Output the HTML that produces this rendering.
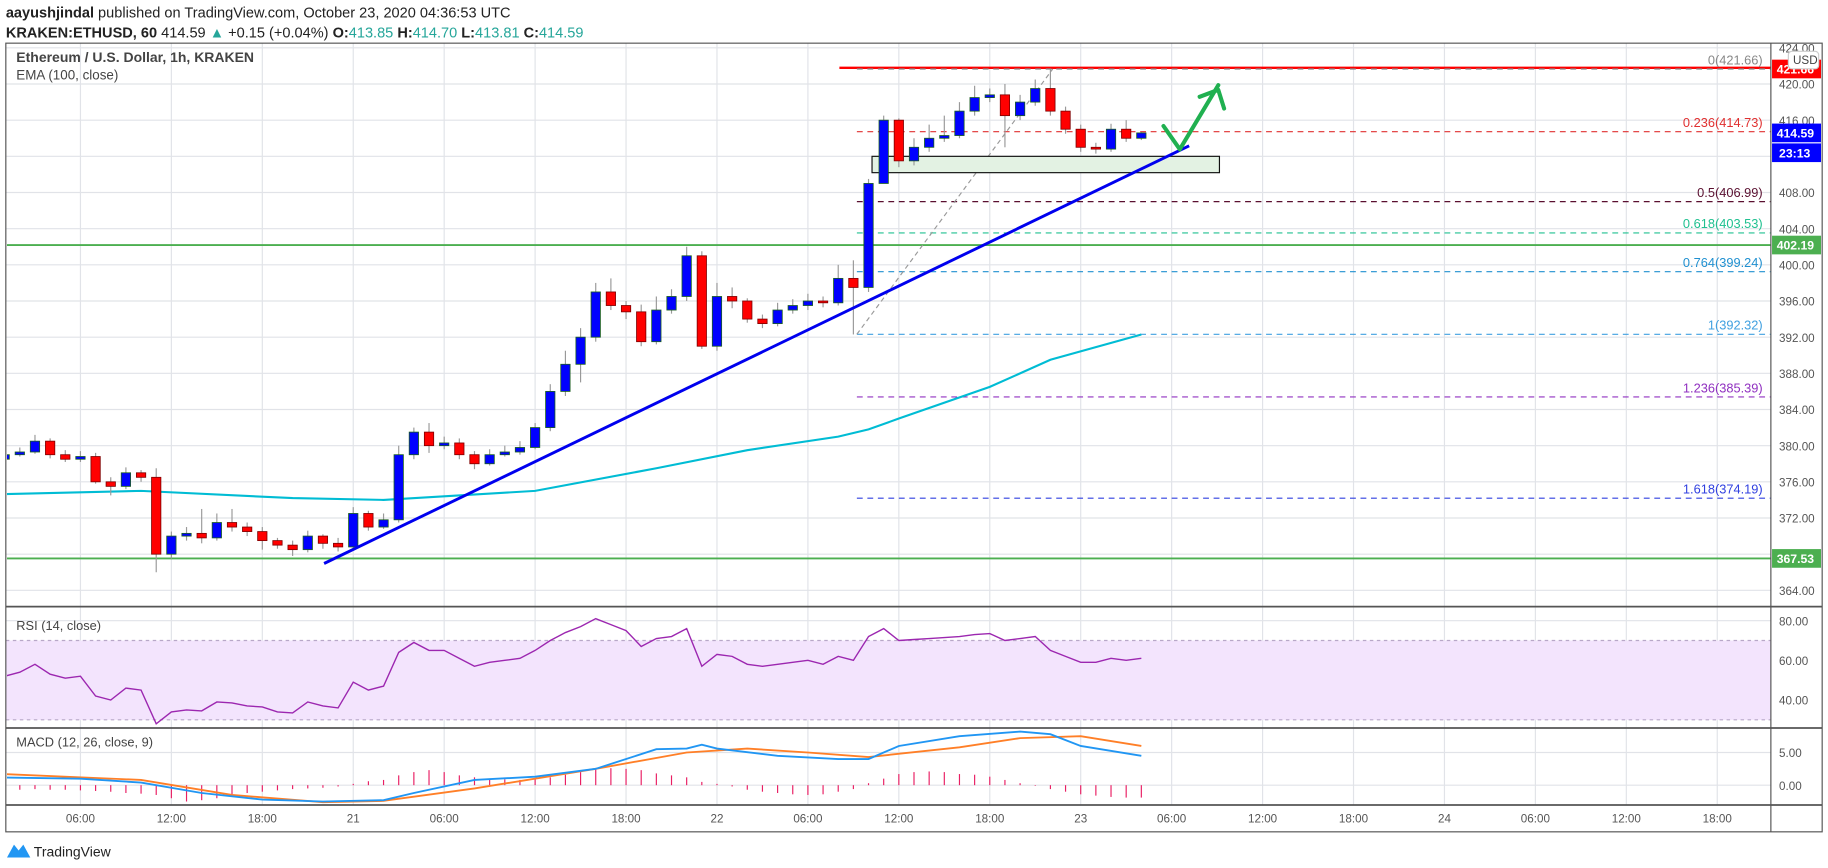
<!DOCTYPE html>
<html><head><meta charset="utf-8"><style>
html,body{margin:0;padding:0;background:#fff;}
svg{display:block;font-family:"Liberation Sans",sans-serif;}
</style></head><body>
<svg id="chart" width="1828" height="868" viewBox="0 0 1568 744" preserveAspectRatio="none" xmlns="http://www.w3.org/2000/svg">
<defs><clipPath id="plotclip"><rect x="6" y="38" width="1513" height="652"/></clipPath></defs>
<g>
<text x="5" y="15" font-size="12.5" fill="#222"><tspan font-weight="bold">aayushjindal</tspan> published on TradingView.com, October 23, 2020 04:36:53 UTC</text>
<text x="5" y="32" font-size="12.5" fill="#222"><tspan font-weight="bold">KRAKEN:ETHUSD, 60</tspan> 414.59 <tspan fill="#26a69a">▲</tspan> +0.15 (+0.04%) <tspan font-weight="bold">O:</tspan><tspan fill="#26a69a">413.85</tspan> <tspan font-weight="bold">H:</tspan><tspan fill="#26a69a">414.70</tspan> <tspan font-weight="bold">L:</tspan><tspan fill="#26a69a">413.81</tspan> <tspan font-weight="bold">C:</tspan><tspan fill="#26a69a">414.59</tspan></text>
</g>
<g id="grid"></g>
<g id="annot" clip-path="url(#plotclip)"></g>
<g id="marks" clip-path="url(#plotclip)"></g>
<g id="axes"></g>
<g>
<text x="14" y="53" font-size="12" font-weight="bold" fill="#444">Ethereum / U.S. Dollar, 1h, KRAKEN</text>
<text x="14" y="68" font-size="11.5" fill="#444">EMA (100, close)</text>
<text x="14" y="540" font-size="11" fill="#444">RSI (14, close)</text>
<text x="14" y="640" font-size="11" fill="#444">MACD (12, 26, close, 9)</text>
</g>
<g>
<path d="M6 735 L12 724 L16 729 L20 724 L26 735 Z" fill="#2196f3"/>
<text x="29" y="734" font-size="12" fill="#222">TradingView</text>
</g>
</svg>
<script>
const closes=[379,379.3,380.5,379,378.5,378.8,376,375.5,377,376.5,
368,370,370.3,369.8,371.5,371,370.5,369.5,369,368.5,
370,369.2,368.8,372.5,371,371.8,379,381.5,380,380.3,
379,378,379,379.3,379.8,382,386,389,392,397,
395.5,394.8,391.5,395,396.5,401,391,396.5,396,394,
393.5,395,395.5,396,395.8,398.5,397.5,409,416,411.5,
413,414,414.3,417,418.5,418.8,416.5,418,419.5,417,
415,413,412.8,415,414,414.59];
const firstOpen=378.5;
const highs=[379.6,379.8,381.2,380.8,379.5,379.4,379.2,376.5,377.6,377.3,
377.5,370.5,371,373,372.5,373,371.5,371,369.8,369.5,
370.6,370.2,369.8,373.2,372.8,372.5,380,382,382.5,381,
380.8,379.4,379.6,380,380.5,382.5,386.8,390.5,393,398,
398.5,396,395.6,396.5,397.3,402,401.5,398,397.5,396.3,
394.5,395.8,396.2,396.8,396.5,400,400.5,409.5,416.5,416.2,
414,415.5,416.5,418,419.8,419.5,420,418.8,420.5,421.66,
417.5,415.5,413.5,415.6,416,414.7];
const lows=[378.2,378.8,379.1,378.6,378.2,378.2,375.8,374.5,375.2,376,
366,367.5,369.5,369.2,369.5,370.5,370,368.5,368.6,367.8,
368.2,368.6,368.3,368.5,370.6,370.8,371.5,378.5,379.2,379.6,
378.5,377.4,377.8,378.8,379,379.6,381.6,385.5,387,391.5,
395,394,391,391.2,394.6,396,390.7,390.5,395.2,393.6,
393,393.2,394.6,395,395.3,395.5,392.3,397,409,410.8,
411,412.5,413.6,414,416.5,418,413,416,417.6,416.5,
414.5,412.5,412.3,412.5,413.6,413.8];
const emaHours=[0,10,20,26,36,44,50,56,58,60,66,70,76];
const emaValues=[374.6,375,374.2,374,375,377.5,379.5,381,381.8,383,386.5,389.5,392.3];
const rsi=[52,54,58,53,51,52,42,40,46,45,
28,34,35,34.5,39,38.5,37,36.5,34,33.5,
39,37,36,49,45,47,64,69,65,65,
61,57,59,60,61,65,70,74,77,81,
78,75,67,71,72,76,57,63,62,58,
57,58,59,60,58,62,60,72,76,70,
70.5,71,71.5,72,73,73.5,70,71,72,65,
62,59,59,61,60,61];
const macdHours=[0,6,10,14,18,22,26,28,32,36,40,44,46,47,48,52,56,58,60,64,68,70,72,76];
const macdValues=[1.2,1.0,0.4,-1.2,-2.2,-2.5,-2.3,-1.2,0.8,1.3,2.5,5.5,5.6,6.2,5.6,4.5,4.0,4.0,6.0,7.5,8.2,7.8,6.0,4.5];
const signalHours=[0,10,16,22,26,32,40,46,50,54,58,64,68,72,76];
const signalValues=[1.8,0.8,-1.5,-2.6,-2.4,-0.5,2.5,5.0,5.6,5.0,4.3,5.8,7.2,7.5,6.0];
const hist=[-0.6,-0.7,-0.6,-0.7,-0.7,-0.8,-0.9,-1,-1.2,-1.3,
-1.5,-2,-2.5,-2.3,-2,-1.8,-1.2,-1,-0.8,-0.6,
-0.5,-0.4,-0.2,0.2,0.6,0.8,1.5,2,2.3,2,
1.5,1.2,1.0,0.9,0.8,0.9,1.2,1.6,2,2.4,
2.6,2.5,2.3,1.8,1.5,1.2,0.5,0.2,-0.2,-0.7,
-1.0,-1.2,-1.4,-1.5,-1.4,-1.0,-0.6,0.3,1,1.7,
2,2.1,2,1.7,1.6,1.3,0.8,0.3,-0.1,-0.6,
-1,-1.4,-1.6,-1.8,-1.9,-1.9];
const priceTicks=[424,420,416,412,408,404,400,396,392,388,384,380,376,372,368,364];
const timeLabels=["06:00","12:00","18:00","21","06:00","12:00","18:00","22","06:00","12:00","18:00","23","06:00","12:00","18:00","24","06:00","12:00","18:00"];
const timeLabelHours=[6,12,18,24,30,36,42,48,54,60,66,72,78,84,90,96,102,108,114];
const fibRatios=["0","0.236","0.5","0.618","0.764","1","1.236","1.618"];
const fibPrices=[421.66,414.73,406.99,403.53,399.24,392.32,385.39,374.19];
const fibColors=["#888","#e03030","#5a1030","#20c090","#2090d0","#40a0e0","#9030c0","#3040e0"];
const supportLevels=[402.19,367.53];

const NS="http://www.w3.org/2000/svg";
const X0=5,XR=1519;
const xH=h=>-9+13*h;
const yP=p=>41+(424-p)*7.75;
const yR=v=>566-(v-60)*1.7;
const yM=v=>673-v*5.6;
function mk(parent,tag,attrs){const e=document.createElementNS(NS,tag);for(const k in attrs)e.setAttribute(k,attrs[k]);document.getElementById(parent).appendChild(e);return e;}

timeLabelHours.forEach(h=>{const e=mk('grid','line',{x1:xH(h),x2:xH(h),y1:37,y2:690,stroke:'#e1e3e8','stroke-width':1});

});
priceTicks.forEach(p=>{const e=mk('grid','line',{x1:X0,x2:XR,y1:yP(p),y2:yP(p),stroke:'#e1e3e8'});

});
[80,60,40].forEach(v=>{const e=mk('grid','line',{x1:X0,x2:XR,y1:yR(v),y2:yR(v),stroke:'#e1e3e8'});

});
[5,0].forEach(v=>{const e=mk('grid','line',{x1:X0,x2:XR,y1:yM(v),y2:yM(v),stroke:'#e1e3e8'});

});
let band=mk('grid','rect',{x:X0,y:yR(70),width:XR-X0,height:yR(30)-yR(70),fill:'#f3e4fd'});


[70,30].forEach(v=>{const e=mk('grid','line',{x1:X0,x2:XR,y1:yR(v),y2:yR(v),stroke:'#b8a8c8','stroke-dasharray':'3,3'});

});

supportLevels.forEach(p=>{const e=mk('annot','line',{x1:X0,x2:XR,y1:yP(p),y2:yP(p),stroke:'#4caf50','stroke-width':1.6});

});
let rl=mk('annot','line',{x1:720,x2:XR,y1:yP(fibPrices[0])-1,y2:yP(fibPrices[0])-1,stroke:'#ff0000','stroke-width':2});


fibPrices.forEach((p,i)=>{const e=mk('annot','line',{x1:735,x2:XR,y1:yP(p),y2:yP(p),stroke:fibColors[i],'stroke-dasharray':'5,4'});


const t=mk('annot','text',{x:1512,y:yP(p)-4,'text-anchor':'end','font-size':11,fill:fibColors[i]});t.textContent=fibRatios[i]+'('+p.toFixed(2)+')';

});
let diag=mk('annot','line',{x1:735,y1:yP(392.32),x2:903,y2:yP(421.66),stroke:'#999','stroke-dasharray':'4,3'});


let rect=mk('annot','rect',{x:748,y:134,width:298,height:14,fill:'#e3f2e3',stroke:'#111','stroke-width':1});



let ep=emaHours.map((h,i)=>xH(h)+','+yP(emaValues[i])).join(' ');
let ema=mk('marks','polyline',{points:ep,fill:'none',stroke:'#00bcd4','stroke-width':1.8});



closes.forEach((c,i)=>{const h=i+1,o=i===0?firstOpen:closes[i-1];const x=xH(h);
const up=c>=o;
const w=mk('marks','line',{x1:x,x2:x,y1:yP(highs[i]),y2:yP(lows[i]),stroke:'#999','stroke-width':1});


const top=yP(Math.max(o,c)),bot=yP(Math.min(o,c));
const b=mk('marks','rect',{x:x-4,y:top,width:8,height:Math.max(1,bot-top),fill:up?'#0000ff':'#ff0000',stroke:up?'#1b5e20':'#7f0000','stroke-width':0.7});

});

let tl=mk('marks','line',{x1:278,y1:483,x2:1020,y2:125,stroke:'#0000ee','stroke-width':2.5});


let ar=mk('marks','polyline',{points:'998,108 1012,128 1045,73',fill:'none',stroke:'#20b050','stroke-width':3.5,'stroke-linecap':'round','stroke-linejoin':'round'});


let ah=mk('marks','polyline',{points:'1029,83 1045,77 1050,93',fill:'none',stroke:'#20b050','stroke-width':3.5,'stroke-linecap':'round','stroke-linejoin':'round'});



let rp=rsi.map((v,i)=>xH(i+1)+','+yR(v)).join(' ');
let rl2=mk('marks','polyline',{points:rp,fill:'none',stroke:'#9c27b0','stroke-width':1.2});



hist.forEach((v,i)=>{const e=mk('marks','line',{x1:xH(i+1),x2:xH(i+1),y1:yM(0),y2:yM(v),stroke:'#e91e63','stroke-width':1});

});
let sp=signalHours.map((h,i)=>xH(h)+','+yM(signalValues[i])).join(' ');
let sl=mk('marks','polyline',{points:sp,fill:'none',stroke:'#ff7f27','stroke-width':1.6});


let mp=macdHours.map((h,i)=>xH(h)+','+yM(macdValues[i])).join(' ');
let ml=mk('marks','polyline',{points:mp,fill:'none',stroke:'#2196f3','stroke-width':1.6});



[['rect',{x:X0,y:37,width:1558,height:676,fill:'none',stroke:'#555'}],
['line',{x1:XR,x2:XR,y1:37,y2:713,stroke:'#555'}],
['line',{x1:X0,x2:1563,y1:520,y2:520,stroke:'#555','stroke-width':1.5}],
['line',{x1:X0,x2:1563,y1:624,y2:624,stroke:'#555','stroke-width':1.5}],
['line',{x1:X0,x2:1563,y1:690,y2:690,stroke:'#555','stroke-width':1.5}]].forEach(d=>{const e=mk('axes',d[0],d[1]);

});
priceTicks.forEach(p=>{const t=mk('axes','text',{x:1526,y:yP(p)+4,'font-size':10,fill:'#555'});t.textContent=p.toFixed(2);

});
[80,60,40].forEach(v=>{const t=mk('axes','text',{x:1526,y:yR(v)+4,'font-size':10,fill:'#555'});t.textContent=v.toFixed(2);

});
[5,0].forEach(v=>{const t=mk('axes','text',{x:1526,y:yM(v)+4,'font-size':10,fill:'#555'});t.textContent=v.toFixed(2);

});
timeLabels.forEach((l,i)=>{const t=mk('axes','text',{x:xH(timeLabelHours[i]),y:705,'text-anchor':'middle','font-size':10,fill:'#555'});t.textContent=l;

});
[[fibPrices[0],'#ff0000','421.66'],[closes[closes.length-1],'#0000ff',closes[closes.length-1].toFixed(2)],[supportLevels[0],'#4caf50',supportLevels[0].toFixed(2)],[supportLevels[1],'#4caf50',supportLevels[1].toFixed(2)]].forEach(b=>{
const y=yP(b[0]);const r=mk('axes','rect',{x:1520,y:y-8,width:42,height:16,fill:b[1]});


const t=mk('axes','text',{x:1524,y:y+4,'font-size':10.5,'font-weight':'bold',fill:'#fff'});t.textContent=b[2];

});
let cd=mk('axes','rect',{x:1520,y:yP(closes[closes.length-1])+9,width:42,height:16,fill:'#0000ff'});


let cdt=mk('axes','text',{x:1526,y:yP(closes[closes.length-1])+21,'font-size':10.5,'font-weight':'bold',fill:'#fff'});cdt.textContent='23:13';


let ub=mk('axes','rect',{x:1534,y:44,width:26,height:15,rx:3,fill:'#fff',stroke:'#ccc'});


let ut=mk('axes','text',{x:1538,y:55,'font-size':10,fill:'#444'});ut.textContent='USD';


</script>
</body></html>
